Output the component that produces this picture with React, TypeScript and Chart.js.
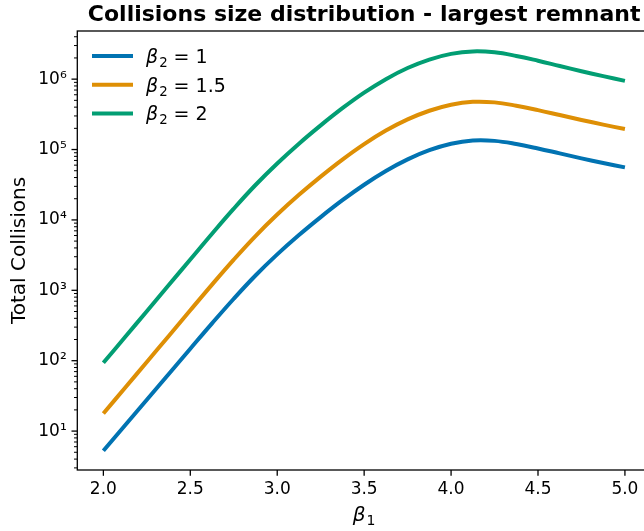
import React, { useEffect, useRef } from "react";
import { Chart, registerables } from "chart.js";

Chart.register(...registerables);

// ---- data ----
const TITLE = "Collisions size distribution - largest remnant";
const Y_LABEL = "Total Collisions";
const X_SUB = "1";
const BETA1 = [2.0, 2.125, 2.25, 2.375, 2.5, 2.625, 2.75, 2.875, 3.0, 3.125, 3.25, 3.375, 3.5, 3.625, 3.75, 3.875, 4.0, 4.125, 4.25, 4.375, 4.5, 4.625, 4.75, 4.875, 5.0];
const BETA2 = ["1", "1.5", "2"];
const SERIES_B1 = [5.25, 12.1, 27.9, 64.3, 148, 339, 759, 1622, 3236, 6095, 10965, 19055, 31623, 49545, 72444, 97724, 120781, 134276, 132739, 119674, 103514, 88105, 74989, 64417, 55719];
const SERIES_B15 = [17.8, 41.3, 95.9, 223, 520, 1205, 2729, 5902, 11912, 22699, 41210, 71945, 119399, 185780, 267917, 355631, 433510, 476431, 467735, 419759, 363078, 309030, 263027, 225944, 195434];
const SERIES_B2 = [93.3, 217, 505, 1178, 2742, 6368, 14454, 31333, 63387, 121061, 220290, 386367, 642688, 1000000, 1438799, 1896706, 2285610, 2477422, 2404314, 2137962, 1828100, 1538155, 1297179, 1104090, 946237];
const X_TICKS = [2.0, 2.5, 3.0, 3.5, 4.0, 4.5, 5.0];
const Y_MAJOR = [10, 100, 1000, 10000, 100000, 1000000];
const SUPER: Record<string, string> = { "0": "⁰", "1": "¹", "2": "²", "3": "³", "4": "⁴", "5": "⁵", "6": "⁶", "7": "⁷", "8": "⁸", "9": "⁹" };
const COLORS = ["#0173B2", "#DE8F05", "#029E73"];

const FONT = '"DejaVu Sans", sans-serif';
const Y_MIN = 2.8;
const Y_MAX = 4.83e6;

function yTickValues(): number[] {
  const vals: number[] = [];
  for (let e = 0; e <= 6; e++) {
    for (let m = 1; m <= 9; m++) {
      const v = m * Math.pow(10, e);
      if (v >= Y_MIN && v <= Y_MAX) vals.push(v);
    }
  }
  return vals;
}

function isMajor(v: number) {
  const l = Math.log10(v);
  return Math.abs(l - Math.round(l)) < 1e-9;
}

function drawBeta(ctx: CanvasRenderingContext2D, sub: string, rest: string, x: number, y: number, size: number, align: "left" | "center") {
  ctx.save();
  ctx.textBaseline = "alphabetic";
  ctx.textAlign = "left";
  const fBeta = `italic ${size}px ${FONT}`;
  const fSub = `${size * 0.7}px ${FONT}`;
  const fRest = `${size}px ${FONT}`;
  ctx.font = fBeta;
  const wB = ctx.measureText("β").width;
  ctx.font = fSub;
  const wS = ctx.measureText(sub).width;
  ctx.font = fRest;
  const wR = rest ? ctx.measureText(rest).width : 0;
  const total = wB + 1 + wS + wR;
  let sx = align === "center" ? x - total / 2 : x;
  ctx.font = fBeta;
  ctx.fillText("β", sx, y);
  sx += wB + 1;
  ctx.font = fSub;
  ctx.fillText(sub, sx, y + size * 0.22);
  sx += wS;
  if (rest) {
    ctx.font = fRest;
    ctx.fillText(rest, sx, y);
  }
  ctx.restore();
}

const overlay = {
  id: "overlay",
  afterDraw(chart: any) {
    const { ctx, chartArea: a, scales } = chart;
    ctx.save();
    ctx.fillStyle = "#000";
    ctx.strokeStyle = "#000";
    // spines
    ctx.lineWidth = 1.3;
    ctx.strokeRect(a.left, a.top, a.right - a.left, a.bottom - a.top);
    // x tick marks
    const xs = scales.x;
    xs.ticks.forEach((t: any) => {
      const px = xs.getPixelForValue(t.value);
      ctx.beginPath();
      ctx.moveTo(px, a.bottom);
      ctx.lineTo(px, a.bottom + 5.8);
      ctx.stroke();
    });
    // y tick marks
    const ys = scales.y;
    ys.ticks.forEach((t: any) => {
      const py = ys.getPixelForValue(t.value);
      const major = isMajor(t.value);
      ctx.lineWidth = major ? 1.3 : 1;
      ctx.beginPath();
      ctx.moveTo(a.left, py);
      ctx.lineTo(a.left - (major ? 5.8 : 3.3), py);
      ctx.stroke();
    });
    // title
    ctx.font = `bold 22px ${FONT}`;
    ctx.textAlign = "center";
    ctx.textBaseline = "alphabetic";
    ctx.fillText(TITLE, (a.left + a.right) / 2, 20.7);
    // y label
    ctx.save();
    ctx.translate(25, (a.top + a.bottom) / 2);
    ctx.rotate(-Math.PI / 2);
    ctx.font = `20px ${FONT}`;
    ctx.textAlign = "center";
    ctx.fillText(Y_LABEL, 0, 0);
    ctx.restore();
    // x label
    drawBeta(ctx, X_SUB, "", (a.left + a.right) / 2, 521, 20, "center");
    // legend
    chart.data.datasets.forEach((ds: any, i: number) => {
      const cy = 56 + i * 28.7;
      ctx.strokeStyle = ds.borderColor;
      ctx.lineWidth = 4;
      ctx.beginPath();
      ctx.moveTo(92, cy);
      ctx.lineTo(133, cy);
      ctx.stroke();
      ctx.fillStyle = "#000";
      drawBeta(ctx, "2", " = " + BETA2[i], 146, cy + 6.9, 19, "left");
    });
    ctx.restore();
  },
};

export default function App() {
  const ref = useRef<HTMLCanvasElement>(null);
  useEffect(() => {
    const seriesList = [SERIES_B1, SERIES_B15, SERIES_B2];
    const chart = new Chart(ref.current as HTMLCanvasElement, {
      type: "line",
      data: {
        datasets: seriesList.map((s, i) => ({
          label: `β₂ = ${BETA2[i]}`,
          data: BETA1.map((x, j) => ({ x, y: s[j] })),
          borderColor: COLORS[i],
          backgroundColor: COLORS[i],
          borderWidth: 4,
          pointRadius: 0,
          tension: 0.4,
          fill: false,
        })),
      },
      options: {
        responsive: false,
        animation: false,
        events: [],
        layout: { padding: { top: 31, right: 0, left: 0, bottom: 0 } },
        plugins: {
          legend: { display: false },
          title: { display: false },
          tooltip: { enabled: false },
        },
        scales: {
          x: {
            type: "linear",
            min: 1.85,
            max: 5.15,
            afterBuildTicks: (s: any) => {
              s.ticks = X_TICKS.map((v) => ({ value: v }));
            },
            afterFit: (s: any) => {
              s.height = 61;
            },
            ticks: {
              autoSkip: false,
              maxRotation: 0,
              padding: 9,
              color: "#000",
              font: { family: FONT, size: 17 },
              callback: (v: any) => Number(v).toFixed(1),
            },
            grid: { display: false, drawTicks: false },
            border: { display: false },
          },
          y: {
            type: "logarithmic",
            min: Y_MIN,
            max: Y_MAX,
            afterBuildTicks: (s: any) => {
              s.ticks = yTickValues().map((v) => ({ value: v }));
            },
            afterFit: (s: any) => {
              s.width = 77.3;
            },
            ticks: {
              autoSkip: false,
              padding: 10.6,
              color: "#000",
              font: { family: FONT, size: 17 },
              callback: (v: any) => {
                const n = Number(v);
                if (!isMajor(n) || !Y_MAJOR.includes(Math.round(n))) return "";
                const e = String(Math.round(Math.log10(n)));
                return "10" + e.split("").map((c) => SUPER[c]).join("");
              },
            },
            grid: { display: false, drawTicks: false },
            border: { display: false },
          },
        },
      },
      plugins: [overlay],
    } as any);
    return () => chart.destroy();
  }, []);
  return (
    <div
      style={{
        position: "fixed",
        left: 0,
        top: 0,
        width: 644,
        height: 531,
        overflow: "hidden",
        background: "#fff",
      }}
    >
      <canvas ref={ref} width={651} height={531} style={{ display: "block" }} />
    </div>
  );
}
